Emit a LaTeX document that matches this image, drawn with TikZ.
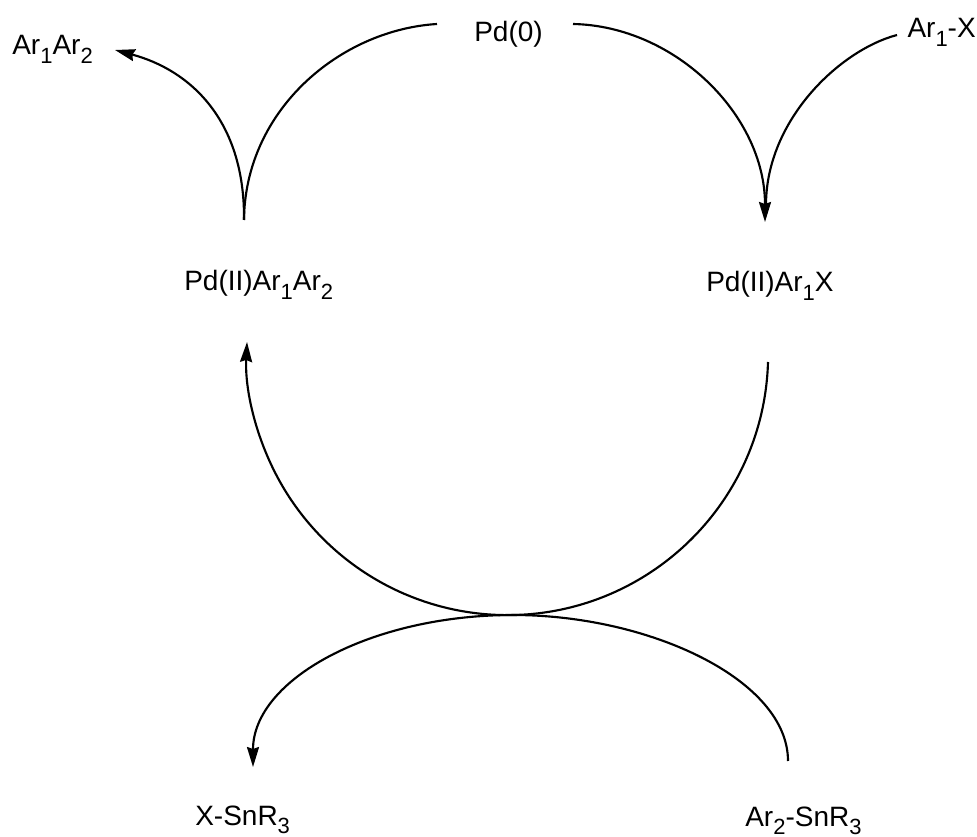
\documentclass[tikz,border=0pt]{standalone}
\usepackage{fontspec}
\setmainfont{Liberation Sans}
\usetikzlibrary{arrows.meta}
\newcommand\chs[1]{\raisebox{-0.3em}{\fontsize{16.5pt}{18pt}\selectfont #1}}
\begin{document}
\begin{tikzpicture}[x=0.75pt,y=-0.75pt,
  lbl/.style={inner sep=0pt, anchor=base west, font=\fontsize{21pt}{25pt}\selectfont},
  conn/.style={line width=1.6pt},
  arr/.style={conn, -{Stealth[length=15pt,width=9pt,inset=1.5pt]}}]
\useasboundingbox (0,0) rectangle (977,837);
% labels
\node[lbl] (arar) at (12,55) {Ar\chs{1}Ar\chs{2}};
\node[lbl] (pd0) at (474,42) {Pd(0)};
\node[lbl, anchor=base east] (arx) at (976,38) {Ar\chs{1}-X};
\node[lbl] (pdx) at (706,292) {Pd(II)Ar\chs{1}X};
\node[lbl] (pdar) at (184,291) {Pd(II)Ar\chs{1}Ar\chs{2}};
\node[lbl] (xsn) at (195,825) {X-SnR\chs{3}};
\node[lbl] (arsn) at (745,826) {Ar\chs{2}-SnR\chs{3}};
% connector end points
\coordinate (pd0w) at (437,24);
\coordinate (cusp) at (244,220);
\coordinate (ararE) at (115,50);
\coordinate (pd0e) at (573,24);
\coordinate (pdxN) at (765,222);
\coordinate (arxW) at (897,35);
\coordinate (pdxS) at (768,362);
\coordinate (mid) at (513,615);
\coordinate (arsnN) at (788,761);
\coordinate (xsnN) at (253,767);
% reductive elimination
\draw[conn] (pd0w) .. controls (340,30) and (245,110) .. (cusp);
\draw[arr] (cusp) .. controls (245,120) and (190,70) .. (ararE);
% oxidative addition
\draw[arr] (pd0e) .. controls (675,26) and (765,115) .. (pdxN);
\draw[conn] (arxW) .. controls (840,50) and (766,120) .. (766,205);
% transmetalation cycle
\draw[arr] (pdxS) arc[start angle=1.67, end angle=182.73, radius=260.7];
\draw[arr] (arsnN) .. controls (788,680) and (650,615) .. (mid)
  .. controls (370,615) and (253,680) .. (xsnN);
\end{tikzpicture}
\end{document}
